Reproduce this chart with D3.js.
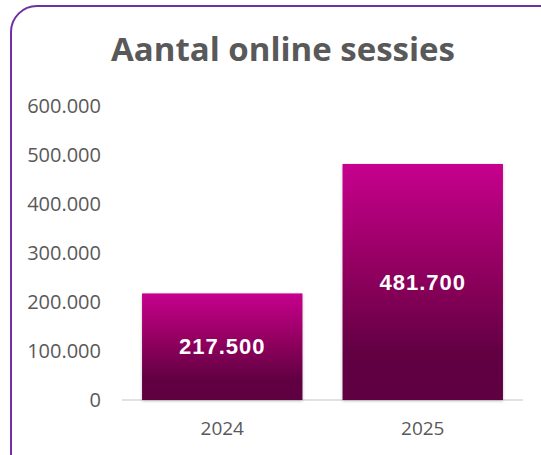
<!DOCTYPE html>
<html><head><meta charset="utf-8">
<script src="https://cdn.jsdelivr.net/npm/d3@7"></script>
<style>html,body{margin:0;padding:0;background:#fff;}svg{display:block;}</style>
</head><body>
<script>
const categories = ["2024", "2025"];
const values = [217500, 481700];
const yTicks = [0, 100000, 200000, 300000, 400000, 500000, 600000];
const title = "Aantal online sessies";

const W = 541, H = 455;
const nl = d3.formatLocale({decimal: ",", thousands: ".", grouping: [3], currency: ["€", ""]});
const fmt = nl.format(",.0f");

const svg = d3.select("body").append("svg").attr("width", W).attr("height", H);
const defs = svg.append("defs");
const grad = defs.append("linearGradient").attr("id", "barGrad").attr("x1", 0).attr("y1", 0).attr("x2", 0).attr("y2", 1);
grad.append("stop").attr("offset", "0%").attr("stop-color", "#c7008e");
grad.append("stop").attr("offset", "45%").attr("stop-color", "#91005f");
grad.append("stop").attr("offset", "80%").attr("stop-color", "#620043");
grad.append("stop").attr("offset", "100%").attr("stop-color", "#5e0041");
const filt = defs.append("filter").attr("id", "shadow").attr("x", "-10%").attr("y", "-10%").attr("width", "120%").attr("height", "120%");
filt.append("feDropShadow").attr("dx", 0).attr("dy", 1).attr("stdDeviation", 1.5).attr("flood-color", "#000").attr("flood-opacity", 0.25);

// border
svg.append("rect").attr("x", 11).attr("y", 6).attr("width", 560).attr("height", 480)
  .attr("rx", 26).attr("ry", 26).attr("fill", "none").attr("stroke", "#7030a0").attr("stroke-width", 2);

svg.append("text").attr("x", 283).attr("y", 61).attr("text-anchor", "middle")
  .attr("font-family", "'Open Sans', sans-serif").attr("font-weight", "bold")
  .attr("font-size", 33).attr("fill", "#595959").text(title);

const x = d3.scaleBand().domain(categories).range([122, 523]).paddingInner(0.2).paddingOuter(0.1);
const y = d3.scaleLinear().domain([0, 600000]).range([400, 106]);

const yAxis = svg.append("g").attr("transform", "translate(101,0)")
  .call(d3.axisLeft(y).tickValues(yTicks).tickFormat(fmt).tickSize(0).tickPadding(0));
yAxis.select(".domain").remove();
yAxis.selectAll("text").attr("font-family", "'Open Sans', sans-serif").attr("font-size", 20).attr("fill", "#595959");

svg.append("line").attr("x1", 122).attr("x2", 523).attr("y1", y(0)).attr("y2", y(0))
  .attr("stroke", "#d9d9d9").attr("stroke-width", 1.5);

svg.selectAll("rect.bar").data(values).enter().append("rect").attr("class", "bar")
  .attr("x", (d, i) => x(categories[i])).attr("width", x.bandwidth())
  .attr("y", d => y(d)).attr("height", d => y(0) - y(d))
  .attr("fill", "url(#barGrad)").attr("filter", "url(#shadow)");

svg.selectAll("text.val").data(values).enter().append("text").attr("class", "val")
  .attr("x", (d, i) => x(categories[i]) + x.bandwidth() / 2)
  .attr("y", d => (y(d) + y(0)) / 2).attr("dy", "0.35em").attr("text-anchor", "middle")
  .attr("font-family", "'Liberation Sans', Arial, sans-serif").attr("font-weight", "bold")
  .attr("font-size", 22).attr("letter-spacing", 1).attr("fill", "#fff").text(d => fmt(d));

const xAxis = svg.append("g").attr("transform", `translate(0,${y(0)})`)
  .call(d3.axisBottom(x).tickSize(0).tickPadding(22));
xAxis.select(".domain").remove();
xAxis.selectAll("text").attr("font-family", "'Open Sans', sans-serif").attr("font-size", 19).attr("fill", "#595959");
</script>
</body></html>
